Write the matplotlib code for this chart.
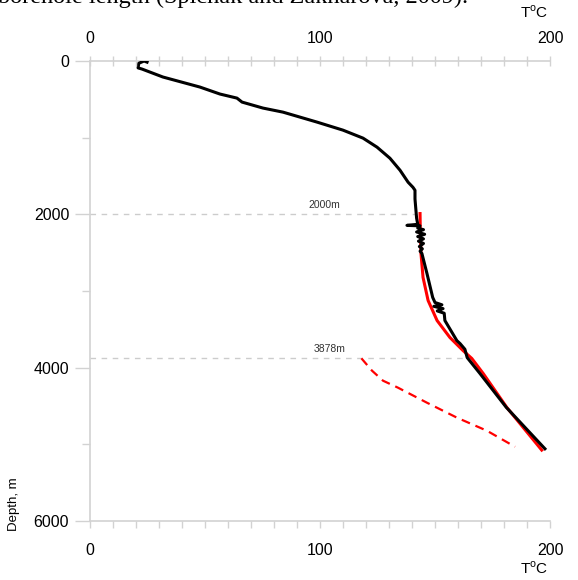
import numpy as np
import matplotlib.pyplot as plt
from matplotlib.ticker import MultipleLocator, FixedLocator

# measured temperature log (T in deg C, depth in m)
meas_t = [24.8, 23.5, 21.2, 20.9, 22.6, 31.7, 47.8, 56.5, 63.9, 66.1, 75.2, 83.9,
          98.7, 110.0, 118.7, 124.8, 130.4, 134.8, 138.3, 140.4, 141.3, 141.3,
          141.6, 142.0, 142.5, 137.8, 143.5, 142.5, 145.0, 142.0, 145.5, 142.5,
          145.0, 142.8, 145.0, 143.2, 144.5, 143.5, 144.3, 146.5, 149.0, 150.0,
          153.0, 149.5, 153.5, 151.0, 154.0, 154.3, 159.5, 160.9, 163.0, 164.0,
          169.6, 181.0, 197.8]
meas_d = [15, 0, 30, 90, 105, 209, 340, 431, 484, 536, 614, 667,
          797, 902, 1006, 1124, 1268, 1425, 1581, 1647, 1686, 1800,
          1908, 2050, 2130, 2144, 2150, 2180, 2200, 2230, 2260, 2290,
          2320, 2350, 2380, 2420, 2450, 2480, 2510, 2771, 3084, 3150,
          3180, 3200, 3230, 3260, 3290, 3385, 3647, 3686, 3760, 3869,
          4078, 4518, 5058]

# model temperature (solid red)
model_t = [143.5, 143.6, 143.9, 144.8, 147.0, 150.9, 156.5, 162.2, 166.0, 171.0, 181.2, 196.4]
model_d = [1990, 2200, 2510, 2823, 3124, 3385, 3607, 3777, 3880, 4078, 4518, 5075]

# forecast below 3878 m (dashed red)
fore_t = [118.0, 122.6, 127.4, 133.9, 146.5, 159.6, 172.6, 184.8]
fore_d = [3878, 4039, 4170, 4261, 4457, 4653, 4823, 5032]

marks = [2000, 3878]
marks_end = [141.3, 164.0]
mark_labels = ["2000m", "3878m"]
mark_label_x = [102, 104]

fig = plt.figure(figsize=(5.78, 5.80), dpi=100)
fig.text(468/578, 1-2.5/580, "borehole length (Spichak and Zakharova, 2009).",
         family="Liberation Serif", fontsize=17.5, va="baseline", ha="right")

ax = fig.add_axes([90/578, 1-521/580, 460/578, 460/580])
gray = "#d2d2d2"

for m, e, lab, lx in zip(marks, marks_end, mark_labels, mark_label_x):
    ax.plot([0, e], [m, m], color="#cccccc", lw=1, ls=(0, (4, 4)), zorder=1)
    ax.text(lx, m - 50, lab, fontsize=7.5, ha="center", va="bottom",
            color="#333333", family="Liberation Sans")

ax.plot(fore_t, fore_d, color="red", lw=1.6, ls=(0, (4, 2.7)), zorder=2)
ax.plot(model_t, model_d, color="red", lw=2.2, zorder=3)
ax.plot(meas_t, meas_d, color="black", lw=2.2, zorder=4)

ax.set_xlim(0, 200)
ax.set_ylim(6000, 0)
ax.spines["right"].set_visible(False)
for s in ["left", "top", "bottom"]:
    ax.spines[s].set_color(gray)
    ax.spines[s].set_linewidth(1.2)

ax.xaxis.set_major_locator(FixedLocator([0, 100, 200]))
ax.xaxis.set_minor_locator(MultipleLocator(10))
ax.yaxis.set_major_locator(FixedLocator([0, 2000, 4000, 6000]))
ax.yaxis.set_minor_locator(FixedLocator([1000, 3000, 5000]))

ax.tick_params(axis="x", which="both", direction="out", length=5, color=gray,
               width=1, labelsize=11.5, pad=11)
ax.tick_params(axis="y", which="major", length=11, color=gray, width=1, labelsize=11.5, pad=4)
ax.tick_params(axis="y", which="minor", length=6, color=gray, width=1)

# top temperature axis
ax2 = ax.twiny()
ax2.set_xlim(0, 200)
ax2.xaxis.set_major_locator(FixedLocator([0, 100, 200]))
ax2.xaxis.set_minor_locator(MultipleLocator(10))
ax2.tick_params(axis="x", which="both", direction="inout", length=7, color=gray,
                width=1, labelsize=11.5, pad=7)
for s in ax2.spines.values():
    s.set_visible(False)

for a in [ax, ax2]:
    for lab in a.get_xticklabels() + a.get_yticklabels():
        lab.set_family("Liberation Sans")

fig.text(548/578, 1-12/580, r"T$^{\mathregular{o}}$C", ha="right", va="center",
         fontsize=11, family="Liberation Sans")
fig.text(548/578, 1-568/580, r"T$^{\mathregular{o}}$C", ha="right", va="center",
         fontsize=11, family="Liberation Sans")
fig.text(14/578, 1-504/580, "Depth, m", rotation=90, ha="center", va="center",
         fontsize=9.5, family="Liberation Sans")

fig.savefig("out.png", dpi=100)
